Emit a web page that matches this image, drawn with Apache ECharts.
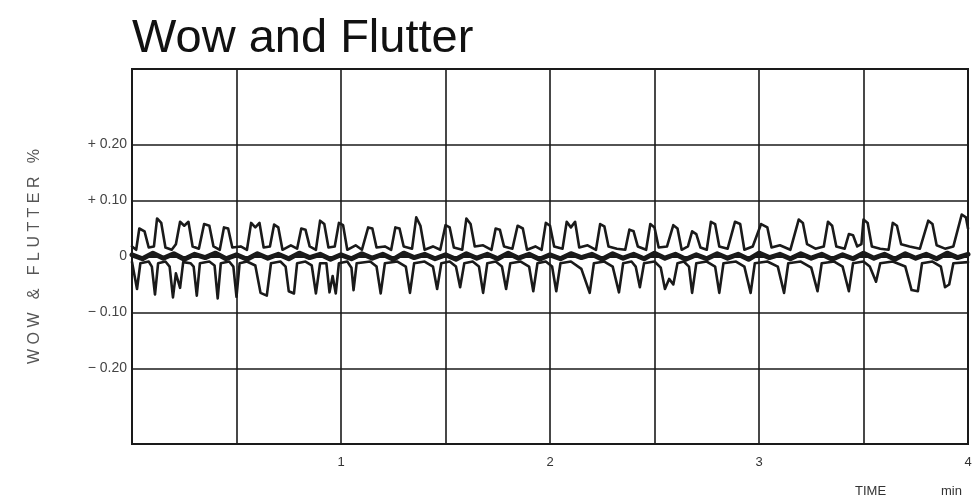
<!DOCTYPE html>
<html>
<head>
<meta charset="utf-8">
<script src="https://cdn.jsdelivr.net/npm/echarts@6/dist/echarts.min.js"></script>
<style>
html,body{margin:0;padding:0;background:#fff;}
#chart{width:977px;height:502px;}
</style>
</head>
<body>
<div id="chart"></div>
<script>
// ---- data ----
const xTickLabels = ['1', '2', '3', '4'];
const yTickValues = [-0.2, -0.1, 0, 0.1, 0.2];
const yTickLabels = ['\u2212 0.20', '\u2212 0.10', '0', '+ 0.10', '+ 0.20'];

// upper pen trace [time (min), wow & flutter %]
const upperTrace = [
[0,0.018],[0.02,0.012],[0.035,0.05],[0.06,0.045],[0.08,0.016],
[0.105,0.018],[0.12,0.068],[0.14,0.06],[0.16,0.016],
[0.19,0.012],[0.21,0.022],[0.23,0.062],[0.25,0.055],[0.27,0.062],[0.29,0.018],
[0.32,0.014],[0.345,0.058],[0.37,0.055],[0.39,0.018],
[0.42,0.012],[0.44,0.052],[0.46,0.05],[0.48,0.016],
[0.52,0.018],[0.55,0.012],[0.57,0.06],[0.59,0.052],[0.61,0.06],[0.63,0.016],
[0.66,0.018],[0.68,0.057],[0.70,0.052],[0.72,0.012],
[0.76,0.02],[0.79,0.014],[0.81,0.05],[0.83,0.048],[0.85,0.018],
[0.88,0.012],[0.90,0.064],[0.92,0.058],[0.94,0.016],
[0.97,0.018],[0.99,0.06],[1.01,0.056],[1.03,0.012],
[1.07,0.02],[1.10,0.012],[1.13,0.052],[1.15,0.05],[1.17,0.016],
[1.21,0.018],[1.24,0.012],[1.26,0.052],[1.28,0.05],[1.30,0.018],
[1.34,0.014],[1.36,0.07],[1.38,0.055],[1.40,0.012],
[1.44,0.018],[1.475,0.012],[1.50,0.056],[1.52,0.052],[1.54,0.016],
[1.58,0.012],[1.60,0.068],[1.62,0.058],[1.64,0.018],
[1.68,0.02],[1.72,0.012],[1.74,0.05],[1.76,0.048],[1.78,0.018],
[1.82,0.014],[1.845,0.055],[1.87,0.05],[1.89,0.012],
[1.93,0.018],[1.96,0.012],[1.98,0.06],[2.00,0.055],[2.02,0.018],
[2.06,0.014],[2.08,0.062],[2.10,0.052],[2.12,0.062],[2.14,0.016],
[2.18,0.02],[2.22,0.012],[2.24,0.058],[2.26,0.054],[2.28,0.018],
[2.32,0.014],[2.36,0.012],[2.38,0.048],[2.40,0.045],[2.42,0.018],
[2.46,0.012],[2.48,0.058],[2.50,0.052],[2.52,0.016],
[2.56,0.018],[2.59,0.056],[2.61,0.05],[2.63,0.012],
[2.66,0.018],[2.68,0.045],[2.70,0.04],[2.72,0.016],
[2.75,0.012],[2.77,0.062],[2.79,0.058],[2.81,0.018],
[2.85,0.014],[2.885,0.062],[2.91,0.058],[2.93,0.012],
[2.97,0.018],[3.01,0.058],[3.04,0.052],[3.06,0.016],
[3.10,0.02],[3.15,0.012],[3.19,0.066],[3.21,0.06],[3.23,0.022],
[3.27,0.014],[3.31,0.018],[3.33,0.062],[3.35,0.055],[3.37,0.018],
[3.41,0.014],[3.43,0.04],[3.45,0.038],[3.47,0.018],
[3.49,0.022],[3.50,0.066],[3.52,0.06],[3.54,0.018],
[3.58,0.014],[3.62,0.012],[3.64,0.06],[3.66,0.055],[3.68,0.022],
[3.72,0.018],[3.77,0.014],[3.81,0.064],[3.83,0.058],[3.85,0.02],
[3.89,0.014],[3.93,0.018],[3.97,0.075],[3.99,0.07],[4.0,0.05]
];

// lower pen trace [time (min), wow & flutter %]
const lowerTrace = [
[0,-0.01],[0.01,-0.03],[0.024,-0.058],[0.04,-0.012],
[0.08,-0.009],[0.095,-0.018],[0.11,-0.068],[0.125,-0.012],
[0.16,-0.009],[0.18,-0.018],[0.196,-0.073],[0.21,-0.03],[0.23,-0.056],[0.245,-0.01],
[0.28,-0.012],[0.295,-0.018],[0.31,-0.07],[0.325,-0.012],
[0.37,-0.009],[0.395,-0.016],[0.41,-0.075],[0.425,-0.012],
[0.465,-0.009],[0.485,-0.018],[0.50,-0.072],[0.515,-0.012],
[0.55,-0.009],[0.59,-0.016],[0.615,-0.065],[0.645,-0.07],[0.665,-0.012],
[0.71,-0.009],[0.735,-0.018],[0.75,-0.062],[0.775,-0.066],[0.79,-0.012],
[0.83,-0.009],[0.86,-0.016],[0.88,-0.066],[0.9,-0.012],
[0.93,-0.012],[0.945,-0.064],[0.96,-0.035],[0.975,-0.066],[0.99,-0.012],
[1.03,-0.009],[1.05,-0.02],[1.06,-0.06],[1.075,-0.012],
[1.14,-0.009],[1.17,-0.018],[1.19,-0.066],[1.21,-0.012],
[1.27,-0.009],[1.31,-0.018],[1.33,-0.065],[1.35,-0.012],
[1.40,-0.009],[1.44,-0.018],[1.46,-0.058],[1.48,-0.012],
[1.52,-0.009],[1.55,-0.018],[1.57,-0.055],[1.59,-0.012],
[1.63,-0.009],[1.66,-0.018],[1.68,-0.065],[1.70,-0.012],
[1.74,-0.009],[1.77,-0.018],[1.79,-0.058],[1.81,-0.012],
[1.86,-0.009],[1.90,-0.018],[1.92,-0.062],[1.94,-0.012],
[1.98,-0.009],[2.01,-0.018],[2.03,-0.062],[2.05,-0.012],
[2.10,-0.009],[2.15,-0.022],[2.19,-0.065],[2.21,-0.012],
[2.26,-0.009],[2.30,-0.018],[2.33,-0.064],[2.35,-0.012],
[2.39,-0.009],[2.41,-0.018],[2.43,-0.055],[2.45,-0.012],
[2.50,-0.009],[2.53,-0.02],[2.55,-0.058],[2.57,-0.04],[2.59,-0.05],[2.61,-0.012],
[2.64,-0.009],[2.665,-0.018],[2.68,-0.065],[2.70,-0.012],
[2.75,-0.009],[2.79,-0.018],[2.81,-0.065],[2.83,-0.012],
[2.89,-0.009],[2.93,-0.018],[2.96,-0.065],[2.98,-0.012],
[3.04,-0.009],[3.09,-0.018],[3.12,-0.065],[3.14,-0.012],
[3.20,-0.009],[3.25,-0.02],[3.28,-0.062],[3.30,-0.012],
[3.36,-0.009],[3.40,-0.018],[3.43,-0.062],[3.45,-0.012],
[3.50,-0.009],[3.53,-0.018],[3.56,-0.045],[3.58,-0.012],
[3.64,-0.009],[3.70,-0.018],[3.73,-0.06],[3.76,-0.062],[3.78,-0.012],
[3.83,-0.009],[3.87,-0.018],[3.89,-0.055],[3.91,-0.05],[3.93,-0.012],
[4.0,-0.01]
];

// thick centre trace near zero [time (min), wow & flutter %]
const centreTrace = [
[0,0.003],[0.05,-0.004],[0.1,0.006],[0.15,-0.003],[0.2,0.005],[0.25,-0.005],[0.3,0.004],[0.35,-0.002],
[0.4,0.006],[0.45,-0.004],[0.5,0.003],[0.55,-0.005],[0.6,0.005],[0.65,-0.003],[0.7,0.004],[0.75,-0.004],
[0.8,0.006],[0.85,-0.002],[0.9,0.004],[0.95,-0.005],[1.0,0.003],[1.05,-0.004],[1.1,0.005],[1.15,-0.003],
[1.2,0.004],[1.25,-0.005],[1.3,0.006],[1.35,-0.002],[1.4,0.004],[1.45,-0.004],[1.5,0.003],[1.55,-0.005],
[1.6,0.005],[1.65,-0.003],[1.7,0.004],[1.75,-0.004],[1.8,0.006],[1.85,-0.003],[1.9,0.004],[1.95,-0.005],
[2.0,0.003],[2.05,-0.004],[2.1,0.005],[2.15,-0.002],[2.2,0.004],[2.25,-0.005],[2.3,0.005],[2.35,-0.003],
[2.4,0.004],[2.45,-0.004],[2.5,0.006],[2.55,-0.003],[2.6,0.004],[2.65,-0.005],[2.7,0.003],[2.75,-0.004],
[2.8,0.005],[2.85,-0.003],[2.9,0.004],[2.95,-0.005],[3.0,0.006],[3.05,-0.002],[3.1,0.004],[3.15,-0.004],
[3.2,0.005],[3.25,-0.003],[3.3,0.004],[3.35,-0.005],[3.4,0.003],[3.45,-0.004],[3.5,0.006],[3.55,-0.003],
[3.6,0.004],[3.65,-0.005],[3.7,0.005],[3.75,-0.003],[3.8,0.004],[3.85,-0.004],[3.9,0.006],[3.95,-0.002],
[4.0,0.004]
];

// ---- chart ----
const ink = '#1a1a1a';
const chart = echarts.init(document.getElementById('chart'), null, {renderer: 'canvas'});

const gridLineData = yTickValues.map(v => ({yAxis: v}));

const traceStyle = (w) => ({color: ink, width: w, join: 'round', cap: 'round'});

chart.setOption({
  animation: false,
  backgroundColor: '#ffffff',
  textStyle: {fontFamily: 'Liberation Sans, Arial, sans-serif'},
  title: {
    text: 'Wow and Flutter',
    left: 127,
    top: 11,
    textStyle: {fontSize: 47, fontWeight: 'normal', color: '#111', fontFamily: 'Liberation Sans, Arial, sans-serif'}
  },
  grid: {left: 132, right: 9, top: 69, bottom: 58, containLabel: false},
  xAxis: {
    type: 'value',
    min: 0,
    max: 4,
    interval: 0.5,
    axisLine: {show: true, lineStyle: {color: ink, width: 2}},
    axisTick: {show: false},
    axisLabel: {
      show: true,
      showMaxLabel: true,
      showMinLabel: false,
      margin: 12,
      color: '#333',
      fontSize: 13,
      formatter: function (v) {
        const s = String(Math.round(v));
        return (Math.abs(v - Math.round(v)) < 1e-6 && xTickLabels.indexOf(s) >= 0) ? s : '';
      }
    },
    splitLine: {show: true, lineStyle: {color: ink, width: 1.6}}
  },
  yAxis: {
    type: 'value',
    min: -0.335,
    max: 0.335,
    name: 'W O W   &   F L U T T E R   %',
    nameLocation: 'middle',
    nameRotate: 90,
    nameGap: 89,
    nameTextStyle: {color: '#555', fontSize: 16},
    axisLine: {show: true, lineStyle: {color: ink, width: 2}},
    axisTick: {show: false, customValues: yTickValues},
    axisLabel: {
      show: true,
      customValues: yTickValues,
      margin: 5,
      color: '#444',
      fontSize: 14,
      formatter: function (v) {
        const i = yTickValues.findIndex(t => Math.abs(t - v) < 1e-6);
        return i >= 0 ? yTickLabels[i] : '';
      }
    },
    splitLine: {show: false}
  },
  graphic: [{
    type: 'text',
    left: 855,
    top: 485,
    style: {text: 'TIME', fill: '#333', font: '13px "Liberation Sans", Arial, sans-serif'}
  }, {
    type: 'text',
    left: 941,
    top: 485,
    style: {text: 'min', fill: '#333', font: '13px "Liberation Sans", Arial, sans-serif'}
  }, {
    type: 'rect',
    shape: {x: 132, y: 69, width: 836, height: 375},
    style: {fill: 'none', stroke: ink, lineWidth: 2},
    silent: true,
    z: 10
  }],
  series: [
    {
      name: 'grid',
      type: 'line',
      data: [],
      markLine: {
        silent: true,
        symbol: 'none',
        label: {show: false},
        lineStyle: {color: ink, width: 1.6, type: 'solid'},
        data: gridLineData
      }
    },
    {
      name: 'centre',
      type: 'line',
      data: centreTrace,
      showSymbol: false,
      lineStyle: traceStyle(5),
      z: 3
    },
    {
      name: 'upper',
      type: 'line',
      data: upperTrace,
      showSymbol: false,
      lineStyle: traceStyle(2.6),
      z: 4
    },
    {
      name: 'lower',
      type: 'line',
      data: lowerTrace,
      showSymbol: false,
      lineStyle: traceStyle(2.6),
      z: 4
    }
  ]
});
</script>
</body>
</html>
